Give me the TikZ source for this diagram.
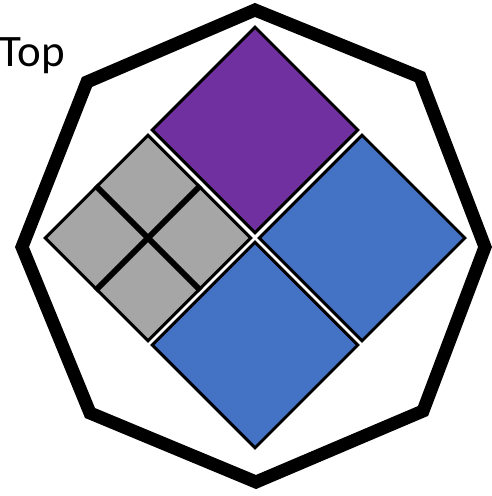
\documentclass[tikz,border=0pt]{standalone}
\usepackage{fontspec}
\newfontfamily\toplabelfont{Carlito}
\usepackage{xcolor}
\usetikzlibrary{positioning}
\definecolor{tilepurple}{RGB}{112,48,160}
\definecolor{tileblue}{RGB}{68,114,196}
\definecolor{tilegrey}{RGB}{166,166,166}

\begin{document}
\begin{tikzpicture}[x=0.02cm, y=-0.02cm,
  tile/.style={draw=black, line width=0.06cm, rotate=45, minimum size=2.91cm, inner sep=0pt},
  rim/.style={draw=black, line width=0.26cm, line join=miter}]
  \useasboundingbox (0,0) rectangle (491,496);
  % outer octagon
  \draw[rim] (255,10) -- (420,77) -- (485,247) -- (423,411) -- (256,482) -- (90,413) -- (22,247) -- (87,82) -- cycle;
  % four tiles
  \node[tile, fill=tilepurple] (purp) at (255,130) {};
  \node[tile, fill=tileblue] (blueR) at (362,238) {};
  \node[tile, fill=tileblue] (blueB) at (255,345) {};
  \node[tile, fill=tilegrey] (grey) at (148,238) {};
  \draw[line width=0.12cm] (grey.north) -- (grey.south); \draw[line width=0.12cm] (grey.east) -- (grey.west);
  \node[font=\toplabelfont\fontsize{25.6}{30}\selectfont, anchor=base west, inner sep=0pt] (toplbl) at (-1,67) {Top};
\end{tikzpicture}
\end{document}
